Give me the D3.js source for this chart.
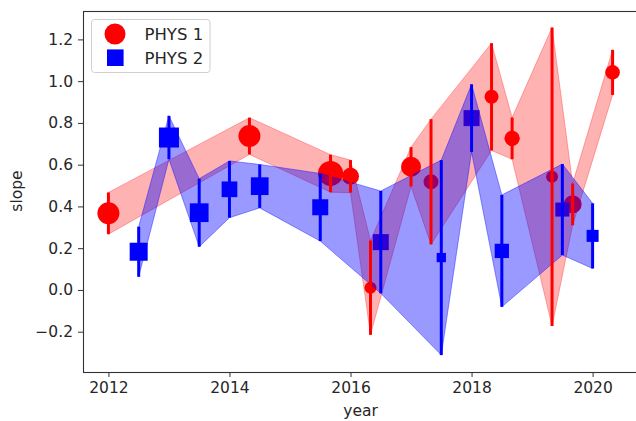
<!DOCTYPE html>
<html>
<head>
<meta charset="utf-8">
<script src="https://cdn.jsdelivr.net/npm/d3@7/dist/d3.min.js"></script>
<style>
  html, body { margin: 0; padding: 0; background: #fff; }
  svg { display: block; }
  text { font-family: "DejaVu Sans", sans-serif; }
</style>
</head>
<body>
<svg id="chart" width="636" height="421"></svg>
<script>
// ---- data ----
const seriesNames = ["PHYS 1", "PHYS 2"];

const years1  = [2012.0, 2014.33, 2015.67, 2016.0, 2016.33, 2017.0, 2017.33, 2018.33, 2018.67, 2019.33, 2019.67, 2020.33];
const slope1  = [0.367, 0.737, 0.558, 0.544, 0.011, 0.590, 0.518, 0.925, 0.726, 0.542, 0.410, 1.042];
const err1    = [0.100, 0.088, 0.090, 0.078, 0.226, 0.094, 0.300, 0.257, 0.100, 0.715, 0.100, 0.108];
const weight1 = [121, 121, 156, 72, 36, 100, 56, 49, 59, 36, 81, 53];

const years2  = [2012.5, 2013.0, 2013.5, 2014.0, 2014.5, 2015.5, 2016.5, 2017.5, 2018.0, 2018.5, 2019.5, 2020.0];
const slope2  = [0.183, 0.730, 0.370, 0.482, 0.497, 0.396, 0.229, 0.155, 0.823, 0.187, 0.385, 0.259];
const err2    = [0.120, 0.104, 0.163, 0.136, 0.104, 0.162, 0.245, 0.467, 0.162, 0.268, 0.218, 0.156];
const weight2 = [324, 400, 350, 246, 313, 256, 256, 86, 256, 204, 196, 144];

const xTicks = [2012, 2014, 2016, 2018, 2020];
const yTicks = [-0.2, 0.0, 0.2, 0.4, 0.6, 0.8, 1.0, 1.2];
const xLabel = "year";
const yLabel = "slope";

// ---- layout ----
const svg = d3.select("#chart");
const mLeft = 83, mTop = 11, mRight = 638, mBottom = 372;
const fontSize = 15.5;
const textColor = "#262626";

const x = d3.scaleLinear().domain([2011.58, 2020.75]).range([mLeft, mRight]);
const y = d3.scaleLinear().domain([-0.393, 1.336]).range([mBottom, mTop]);

const r1 = d3.scaleSqrt().domain([0, 156]).range([0, 12.5]);
const s2 = d3.scaleSqrt().domain([0, 400]).range([0, 20]);

const red = "#ff0000", blue = "#0000ff";

const pts1 = years1.map((yr, i) => ({x: yr, v: slope1[i], e: err1[i], w: weight1[i]}));
const pts2 = years2.map((yr, i) => ({x: yr, v: slope2[i], e: err2[i], w: weight2[i]}));

const defs = svg.append("defs");
defs.append("clipPath").attr("id", "plotclip")
  .append("rect").attr("x", mLeft).attr("y", mTop).attr("width", mRight - mLeft).attr("height", mBottom - mTop);

const plot = svg.append("g").attr("clip-path", "url(#plotclip)");

// scatter markers (drawn first)
plot.append("g").selectAll("circle").data(pts1).join("circle")
  .attr("cx", d => x(d.x)).attr("cy", d => y(d.v)).attr("r", d => r1(d.w))
  .attr("fill", red);

plot.append("g").selectAll("rect").data(pts2).join("rect")
  .attr("x", d => x(d.x) - s2(d.w) / 2).attr("y", d => y(d.v) - s2(d.w) / 2)
  .attr("width", d => s2(d.w)).attr("height", d => s2(d.w))
  .attr("fill", blue);

// bands
const area = d3.area().x(d => x(d.x)).y0(d => y(d.v - d.e)).y1(d => y(d.v + d.e));
plot.append("path").datum(pts1).attr("d", area)
  .attr("fill", red).attr("fill-opacity", 0.3)
  .attr("stroke", red).attr("stroke-opacity", 0.3).attr("stroke-width", 1);
plot.append("path").datum(pts2).attr("d", area)
  .attr("fill", blue).attr("fill-opacity", 0.4)
  .attr("stroke", blue).attr("stroke-opacity", 0.4).attr("stroke-width", 1);

// error bars
plot.append("g").selectAll("line").data(pts1).join("line")
  .attr("x1", d => x(d.x)).attr("x2", d => x(d.x))
  .attr("y1", d => y(d.v - d.e)).attr("y2", d => y(d.v + d.e))
  .attr("stroke", red).attr("stroke-width", 3);
plot.append("g").selectAll("line").data(pts2).join("line")
  .attr("x1", d => x(d.x)).attr("x2", d => x(d.x))
  .attr("y1", d => y(d.v - d.e)).attr("y2", d => y(d.v + d.e))
  .attr("stroke", blue).attr("stroke-width", 3);

// axes
const xAxis = d3.axisBottom(x).tickValues(xTicks).tickFormat(d3.format("d")).tickSizeOuter(0).tickSize(5).tickPadding(5);
const yAxis = d3.axisLeft(y).tickValues(yTicks).tickFormat(d => d3.format(".1f")(d).replace("-", "\u2212")).tickSizeOuter(0).tickSize(5).tickPadding(5);

const gx = svg.append("g").attr("transform", `translate(0,${mBottom})`).call(xAxis);
const gy = svg.append("g").attr("transform", `translate(${mLeft},0)`).call(yAxis);
[gx, gy].forEach(g => {
  g.select(".domain").remove();
  g.selectAll(".tick line").attr("stroke", "#333").attr("stroke-width", 1);
  g.selectAll(".tick text").attr("fill", textColor).style("font-size", fontSize + "px")
    .style("font-family", "'DejaVu Sans', sans-serif");
});

// spines
svg.append("rect").attr("x", mLeft + 0.5).attr("y", mTop + 0.5)
  .attr("width", mRight - mLeft).attr("height", mBottom - mTop)
  .attr("fill", "none").attr("stroke", "#333").attr("stroke-width", 1.1);

// axis labels
svg.append("text").attr("x", (mLeft + mRight) / 2).attr("y", 416)
  .attr("text-anchor", "middle").attr("fill", textColor).style("font-size", fontSize + "px").text(xLabel);
svg.append("text").attr("transform", "translate(22,191) rotate(-90)")
  .attr("text-anchor", "middle").attr("fill", textColor).style("font-size", fontSize + "px").text(yLabel);

// legend
const lg = svg.append("g");
lg.append("rect").attr("x", 91.5).attr("y", 19.5).attr("width", 118.5).attr("height", 53)
  .attr("rx", 3).attr("fill", "#fff").attr("fill-opacity", 0.8)
  .attr("stroke", "#d0d0d0").attr("stroke-width", 1);
lg.append("circle").attr("cx", 115).attr("cy", 34).attr("r", 10.5).attr("fill", red);
lg.append("rect").attr("x", 115.3 - 8.3).attr("y", 57.7 - 8.3).attr("width", 16.6).attr("height", 16.6).attr("fill", blue);
lg.append("text").attr("x", 144.5).attr("y", 39.5).attr("fill", textColor)
  .style("font-size", "16.5px").text(seriesNames[0]);
lg.append("text").attr("x", 144.5).attr("y", 63.5).attr("fill", textColor)
  .style("font-size", "16.5px").text(seriesNames[1]);
</script>
</body>
</html>
